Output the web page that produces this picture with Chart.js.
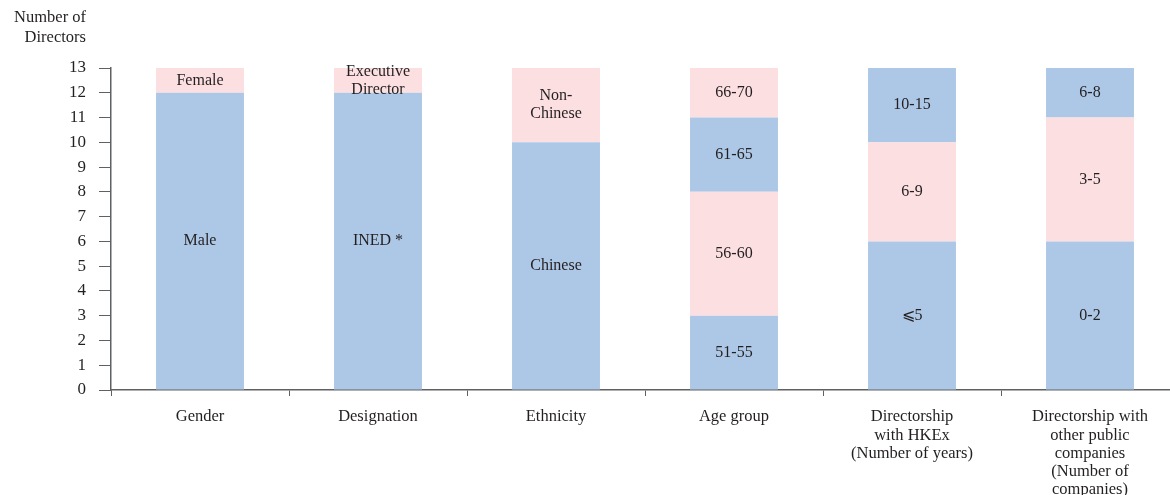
<!DOCTYPE html>
<html>
<head>
<meta charset="utf-8">
<script src="https://cdn.jsdelivr.net/npm/chart.js@4.4.1/dist/chart.umd.min.js"></script>
<style>
  html, body { margin: 0; padding: 0; background: #fff; overflow: hidden; }
  #wrap { width: 1180px; height: 495px; }
</style>
</head>
<body>
<div id="wrap"><canvas id="chart" width="1180" height="495"></canvas></div>
<script>
// Categories (x axis)
const categories = [
    ['Gender'],
    ['Designation'],
    ['Ethnicity'],
    ['Age group'],
    ['Directorship', 'with HKEx', '(Number of years)'],
    ['Directorship with', 'other public', 'companies', '(Number of', 'companies)']
];

// Stacked layers, bottom to top
const layer1 = [12, 12, 10, 3, 6, 6];
const layer1Labels = ['Male', 'INED *', 'Chinese', '51-55', '\u2A7D5', '0-2'];

const layer2 = [1, 1, 3, 5, 4, 5];
const layer2Labels = ['Female', ['Executive', 'Director'], ['Non-', 'Chinese'], '56-60', '6-9', '3-5'];

const layer3 = [null, null, null, 3, 3, 2];
const layer3Labels = [null, null, null, '61-65', '10-15', '6-8'];

const layer4 = [null, null, null, 2, null, null];
const layer4Labels = [null, null, null, '66-70', null, null];

const yTicks = [0, 1, 2, 3, 4, 5, 6, 7, 8, 9, 10, 11, 12, 13];

const BLUE = '#adc8e6';
const PINK = '#fcdfe0';
const TEXT = '#231f20';
const AXIS = '#5f6062';
const FONT = '"Liberation Serif", "DejaVu Serif", serif';

// Writes the category text in the middle of each stacked segment
const segmentLabels = {
    id: 'segmentLabels',
    afterDatasetsDraw(chart) {
        const ctx = chart.ctx;
        ctx.save();
        ctx.fillStyle = TEXT;
        ctx.font = '16px ' + FONT;
        ctx.textAlign = 'center';
        ctx.textBaseline = 'middle';
        chart.data.datasets.forEach((ds, i) => {
            const meta = chart.getDatasetMeta(i);
            meta.data.forEach((bar, j) => {
                let txt = ds.segLabels[j];
                if (!txt || ds.data[j] == null) return;
                if (!Array.isArray(txt)) txt = [txt];
                const p = bar.getProps(['x', 'y', 'base'], true);
                const mid = (p.y + p.base) / 2;
                const lh = 18;
                txt.forEach((line, k) => {
                    ctx.fillText(line, p.x, mid + (k - (txt.length - 1) / 2) * lh);
                });
            });
        });
        ctx.restore();
    }
};

// Axis title above the y axis, right aligned with tick labels
const yTitle = {
    id: 'yTitle',
    afterDraw(chart) {
        const ctx = chart.ctx;
        ctx.save();
        ctx.fillStyle = TEXT;
        ctx.font = '16.5px ' + FONT;
        ctx.textAlign = 'right';
        ctx.textBaseline = 'middle';
        ctx.fillText('Number of', 86, 18);
        ctx.fillText('Directors', 86, 38);
        ctx.restore();
    }
};

new Chart(document.getElementById('chart').getContext('2d'), {
    type: 'bar',
    data: {
        labels: categories,
        datasets: [
            { data: layer1, segLabels: layer1Labels, backgroundColor: BLUE },
            { data: layer2, segLabels: layer2Labels, backgroundColor: PINK },
            { data: layer3, segLabels: layer3Labels, backgroundColor: BLUE },
            { data: layer4, segLabels: layer4Labels, backgroundColor: PINK }
        ]
    },
    options: {
        responsive: false,
        animation: false,
        layout: { padding: { top: 68, right: 1, left: 0, bottom: 0 } },
        datasets: { bar: { barPercentage: 1, categoryPercentage: 0.494, borderWidth: 0 } },
        plugins: { legend: { display: false }, tooltip: { enabled: false } },
        scales: {
            x: {
                stacked: true,
                afterFit(scale) { scale.height = 105; },
                grid: { drawOnChartArea: false, drawTicks: true, tickLength: 6, color: AXIS, offset: true },
                border: { color: AXIS, width: 1.5 },
                ticks: {
                    color: TEXT,
                    font: { family: FONT, size: 16.5, lineHeight: 1.1 },
                    padding: 12,
                    maxRotation: 0,
                    autoSkip: false
                }
            },
            y: {
                stacked: true,
                min: 0,
                max: 13,
                afterFit(scale) { scale.width = 111; },
                afterBuildTicks(scale) { scale.ticks = yTicks.map(v => ({ value: v })); },
                grid: { drawOnChartArea: false, drawTicks: true, tickLength: 12, color: AXIS },
                border: { color: AXIS, width: 1.5 },
                ticks: {
                    color: TEXT,
                    font: { family: FONT, size: 17 },
                    padding: 13
                }
            }
        }
    },
    plugins: [segmentLabels, yTitle]
});
</script>
</body>
</html>
